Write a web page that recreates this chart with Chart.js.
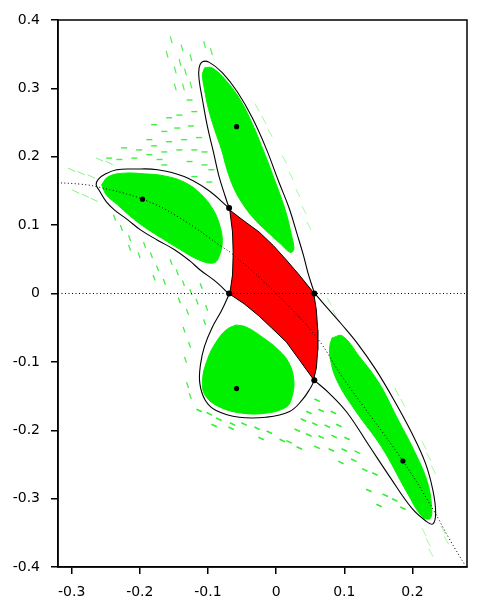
<!DOCTYPE html>
<html>
<head>
<meta charset="utf-8">
<script src="https://cdn.jsdelivr.net/npm/chart.js@4/dist/chart.umd.min.js"></script>
<style>
  html, body { margin: 0; padding: 0; background: #fff; }
  #wrap { width: 483px; height: 609px; }
</style>
</head>
<body>
<div id="wrap"><canvas id="chart" width="483" height="609"></canvas></div>
<script>
// tick labels
const xTicks = [-0.3, -0.2, -0.1, 0, 0.1, 0.2];
const yTicks = [-0.4, -0.3, -0.2, -0.1, 0, 0.1, 0.2, 0.3, 0.4];

// elliptic fixed points (black dots)
const centerX = [-0.058, -0.196, -0.058, 0.186];
const centerY = [0.244, 0.138, -0.139, -0.245];

// saddle points
const saddleX = [-0.069, -0.069, 0.056, 0.056];
const saddleY = [0.125, 0.0, 0.0, -0.127];

// dotted curve through the fixed points
const curveX = [-0.321, -0.288, -0.262, -0.196, -0.142, -0.079, -0.062, 0, 0.060, 0.097, 0.186, 0.231, 0.253, 0.278];
const curveY = [0.162, 0.160, 0.156, 0.138, 0.111, 0.068, 0.056, 0, -0.065, -0.122, -0.245, -0.317, -0.357, -0.399];

// dotted horizontal line y = 0
const axisLineX = [-0.32, 0.28];
const axisLineY = [0, 0];

// separatrix curves (black)
const topOutlineX = [-0.069, -0.075, -0.084, -0.092, -0.101, -0.108, -0.113, -0.113, -0.108, -0.098, -0.079, -0.057, -0.035, -0.015, 0.004, 0.019, 0.031, 0.040, 0.047, 0.056];
const topOutlineY = [0.125, 0.143, 0.172, 0.207, 0.245, 0.283, 0.313, 0.330, 0.339, 0.338, 0.323, 0.295, 0.257, 0.213, 0.163, 0.125, 0.086, 0.056, 0.029, 0.001];

const leftOutlineX = [-0.069, -0.101, -0.135, -0.174, -0.208, -0.234, -0.250, -0.261, -0.264, -0.259, -0.249, -0.237, -0.218, -0.199, -0.174, -0.149, -0.127, -0.111, -0.088, -0.069];
const leftOutlineY = [0.125, 0.152, 0.171, 0.181, 0.182, 0.181, 0.175, 0.167, 0.159, 0.150, 0.134, 0.122, 0.108, 0.093, 0.078, 0.064, 0.048, 0.034, 0.017, -0.001];

const bottomOutlineX = [-0.069, -0.080, -0.094, -0.105, -0.111, -0.112, -0.104, -0.088, -0.054, -0.015, 0.019, 0.038, 0.051, 0.056];
const bottomOutlineY = [-0.001, -0.025, -0.050, -0.077, -0.104, -0.131, -0.156, -0.171, -0.181, -0.181, -0.173, -0.156, -0.137, -0.127];

const brOutlineX = [0.056, 0.074, 0.096, 0.120, 0.146, 0.173, 0.199, 0.219, 0.230, 0.234, 0.230, 0.220, 0.199, 0.168, 0.136, 0.104, 0.078, 0.056];
const brOutlineY = [0.001, -0.020, -0.045, -0.074, -0.111, -0.156, -0.204, -0.248, -0.288, -0.321, -0.337, -0.333, -0.314, -0.270, -0.222, -0.174, -0.146, -0.127];

// green islands
const topGreenX = [-0.105, -0.094, -0.074, -0.055, -0.038, -0.019, 0.000, 0.014, 0.023, 0.026, 0.021, 0.006, -0.015, -0.033, -0.049, -0.062, -0.072, -0.080, -0.090, -0.099, -0.105, -0.108, -0.105];
const topGreenY = [0.330, 0.330, 0.312, 0.287, 0.255, 0.210, 0.160, 0.120, 0.083, 0.065, 0.060, 0.073, 0.092, 0.110, 0.131, 0.154, 0.181, 0.210, 0.239, 0.269, 0.298, 0.320, 0.330];

const leftGreenX = [-0.256, -0.246, -0.223, -0.193, -0.164, -0.135, -0.111, -0.092, -0.082, -0.079, -0.082, -0.091, -0.113, -0.142, -0.168, -0.193, -0.214, -0.233, -0.249, -0.256];
const leftGreenY = [0.159, 0.171, 0.176, 0.175, 0.172, 0.163, 0.146, 0.122, 0.097, 0.078, 0.059, 0.045, 0.049, 0.065, 0.081, 0.097, 0.113, 0.130, 0.144, 0.159];

const bottomGreenX = [-0.059, -0.044, -0.020, 0.004, 0.019, 0.026, 0.023, 0.015, -0.015, -0.050, -0.083, -0.104, -0.108, -0.101, -0.088, -0.073, -0.059];
const bottomGreenY = [-0.046, -0.049, -0.064, -0.083, -0.102, -0.127, -0.152, -0.166, -0.175, -0.175, -0.166, -0.149, -0.127, -0.097, -0.071, -0.053, -0.046];

const brGreenX = [0.082, 0.097, 0.122, 0.151, 0.177, 0.202, 0.221, 0.228, 0.226, 0.214, 0.192, 0.155, 0.116, 0.089, 0.079, 0.079, 0.082];
const brGreenY = [-0.065, -0.062, -0.092, -0.131, -0.181, -0.229, -0.273, -0.310, -0.329, -0.326, -0.291, -0.225, -0.171, -0.127, -0.093, -0.075, -0.065];

// red central cell
const redX = [-0.068, -0.047, -0.025, -0.004, 0.015, 0.034, 0.055, 0.059, 0.061, 0.061, 0.059, 0.055, 0.034, 0.015, -0.007, -0.025, -0.047, -0.068, -0.064, -0.063, -0.064, -0.068];
const redY = [0.122, 0.106, 0.090, 0.070, 0.049, 0.027, 0.001, -0.024, -0.053, -0.083, -0.109, -0.126, -0.097, -0.071, -0.050, -0.033, -0.015, -0.001, 0.027, 0.059, 0.090, 0.122];

// scattered green dashes (orbit debris)
const s1X = [-0.223, -0.201, -0.179, -0.157, -0.135, -0.113, -0.230, -0.208, -0.186, -0.164, -0.142, -0.120, -0.105, -0.245, -0.171, -0.127, -0.105, -0.095, -0.164, -0.145, -0.125, -0.142, -0.120, -0.127, -0.186, -0.164, -0.098, -0.120, -0.179, -0.157];
const s1Y = [0.213, 0.210, 0.216, 0.222, 0.225, 0.228, 0.196, 0.198, 0.203, 0.207, 0.210, 0.210, 0.207, 0.198, 0.196, 0.193, 0.188, 0.181, 0.237, 0.242, 0.245, 0.261, 0.266, 0.283, 0.225, 0.188, 0.163, 0.171, 0.247, 0.257];

const s2X = [-0.154, -0.138, -0.125, -0.148, -0.133, -0.148, -0.136, -0.125, -0.105, -0.095, -0.160, -0.141];
const s2Y = [0.371, 0.359, 0.345, 0.327, 0.324, 0.302, 0.302, 0.305, 0.364, 0.354, 0.350, 0.338];

const s3X = [-0.237, -0.227, -0.215, -0.193, -0.183, -0.174, -0.154, -0.145, -0.164, -0.136, -0.125, -0.116, -0.102, -0.105, -0.142, -0.130, -0.135, -0.127, -0.133, -0.130, -0.126, -0.179, -0.110, -0.201, -0.215];
const s3Y = [0.111, 0.096, 0.081, 0.071, 0.056, 0.037, 0.046, 0.031, 0.017, 0.015, 0.002, -0.012, -0.021, -0.042, -0.010, -0.027, -0.053, -0.075, -0.097, -0.134, -0.150, 0.023, 0.011, 0.056, 0.067];

const s4X = [-0.300, -0.286, -0.271, -0.294, -0.280, -0.267, -0.259, -0.245];
const s4Y = [0.181, 0.176, 0.171, 0.149, 0.143, 0.137, 0.196, 0.191];

const s5X = [-0.113, -0.098, -0.084, -0.064, -0.047, -0.028, -0.010, 0.009, -0.022, 0.048, 0.066, 0.084, 0.060, 0.040, 0.057, 0.075, 0.092, 0.031, 0.048, 0.066, 0.085, 0.104, 0.060, 0.081, 0.100, 0.119, 0.095, 0.114, 0.130, 0.145, 0.160, 0.174, 0.186, 0.034, 0.019, -0.066, -0.091, 0.136, 0.151];
const s5Y = [-0.171, -0.176, -0.184, -0.191, -0.191, -0.197, -0.203, -0.215, -0.212, -0.174, -0.171, -0.174, -0.156, -0.185, -0.191, -0.194, -0.193, -0.200, -0.207, -0.210, -0.209, -0.212, -0.225, -0.229, -0.229, -0.232, -0.247, -0.244, -0.258, -0.264, -0.295, -0.302, -0.314, -0.226, -0.217, -0.197, -0.193, -0.288, -0.310];

const s6X = [0.217, 0.223, 0.227, 0.245, 0.250, 0.177, 0.186, 0.217, 0.224, 0.231, 0.012, 0.022, 0.032, 0.041, 0.048, -0.028, -0.018, -0.009, 0.078, 0.086];
const s6Y = [-0.349, -0.364, -0.379, -0.346, -0.361, -0.144, -0.160, -0.222, -0.239, -0.258, 0.196, 0.172, 0.147, 0.122, 0.099, 0.272, 0.254, 0.235, -0.012, -0.030];

function pts(xs, ys) {
  return xs.map((x, i) => ({ x: x, y: ys[i] }));
}

const GREEN = "#00f000";

function island(xs, ys) {
  return {
    data: pts(xs, ys), showLine: true, fill: "shape", tension: 0.4,
    backgroundColor: GREEN, borderColor: GREEN, borderWidth: 1,
    pointRadius: 0, order: 4
  };
}

function separatrix(xs, ys) {
  return {
    data: pts(xs, ys), showLine: true, fill: false, tension: 0.4,
    borderColor: "#000", borderWidth: 1.1, pointRadius: 0, order: 2
  };
}

function dashes(xs, ys, rot, color, len, width) {
  return {
    data: pts(xs, ys), showLine: false, pointStyle: "line",
    pointRotation: rot, pointRadius: len, borderColor: color,
    backgroundColor: color, borderWidth: width, order: 5
  };
}

// frame round the plot area
const framePlugin = {
  id: "frame",
  afterDraw(chart) {
    const a = chart.chartArea, ctx = chart.ctx;
    ctx.save();
    ctx.strokeStyle = "#000";
    ctx.lineWidth = 1.5;
    ctx.strokeRect(a.left, a.top, a.right - a.left, a.bottom - a.top);
    ctx.restore();
  }
};

function fmt(v) {
  return String(Math.round(v * 10) / 10);
}

new Chart(document.getElementById("chart"), {
  type: "scatter",
  data: {
    datasets: [
      { data: pts(centerX, centerY), pointRadius: 2.6, backgroundColor: "#000", borderColor: "#000", borderWidth: 0, order: 0 },
      { data: pts(saddleX, saddleY), pointRadius: 3, backgroundColor: "#000", borderColor: "#000", borderWidth: 0, order: 0 },
      { data: pts(curveX, curveY), showLine: true, tension: 0.4, borderColor: "#000", borderWidth: 1, borderDash: [1, 2.5], pointRadius: 0, order: 1 },
      { data: pts(axisLineX, axisLineY), showLine: true, borderColor: "#000", borderWidth: 1, borderDash: [1, 2.5], pointRadius: 0, order: 1 },
      separatrix(topOutlineX, topOutlineY),
      separatrix(leftOutlineX, leftOutlineY),
      separatrix(bottomOutlineX, bottomOutlineY),
      separatrix(brOutlineX, brOutlineY),
      { data: pts(redX, redY), showLine: true, fill: "shape", tension: 0, backgroundColor: "#ff0000", borderColor: "#000", borderWidth: 1, pointRadius: 0, order: 3 },
      island(topGreenX, topGreenY),
      island(leftGreenX, leftGreenY),
      island(bottomGreenX, bottomGreenY),
      island(brGreenX, brGreenY),
      dashes(s1X, s1Y, 0, "#44ee44", 3, 1.4),
      dashes(s2X, s2Y, 75, "#55ee55", 3.5, 1.2),
      dashes(s3X, s3Y, 70, "#44ee44", 3, 1.3),
      dashes(s4X, s4Y, 25, "#88f288", 4, 1),
      dashes(s5X, s5Y, 25, "#33ee33", 3, 1.6),
      dashes(s6X, s6Y, 62, "#a6f6a6", 4.5, 1)
    ]
  },
  options: {
    responsive: false,
    animation: false,
    devicePixelRatio: 1,
    events: [],
    layout: { padding: { top: 20, right: 16, left: 0, bottom: 0 } },
    plugins: { legend: { display: false }, tooltip: { enabled: false } },
    scales: {
      x: {
        type: "linear", min: -0.32, max: 0.28,
        afterBuildTicks: s => { s.ticks = xTicks.map(v => ({ value: v })); },
        afterFit: s => { s.height = 42; },
        grid: { drawOnChartArea: false, drawTicks: true, tickLength: 7, color: "#000", lineWidth: 1.5 },
        border: { display: true, color: "#000", width: 1.5 },
        ticks: { color: "#000", padding: 10, maxRotation: 0, font: { family: "DejaVu Sans", size: 14 }, callback: v => fmt(v) }
      },
      y: {
        type: "linear", min: -0.4, max: 0.4,
        afterBuildTicks: s => { s.ticks = yTicks.map(v => ({ value: v })); },
        afterFit: s => { s.width = 58; },
        grid: { drawOnChartArea: false, drawTicks: true, tickLength: 7, color: "#000", lineWidth: 1.5 },
        border: { display: true, color: "#000", width: 1.5 },
        ticks: { color: "#000", padding: 11, font: { family: "DejaVu Sans", size: 14 }, callback: v => fmt(v) }
      }
    }
  },
  plugins: [framePlugin]
});
</script>
</body>
</html>
